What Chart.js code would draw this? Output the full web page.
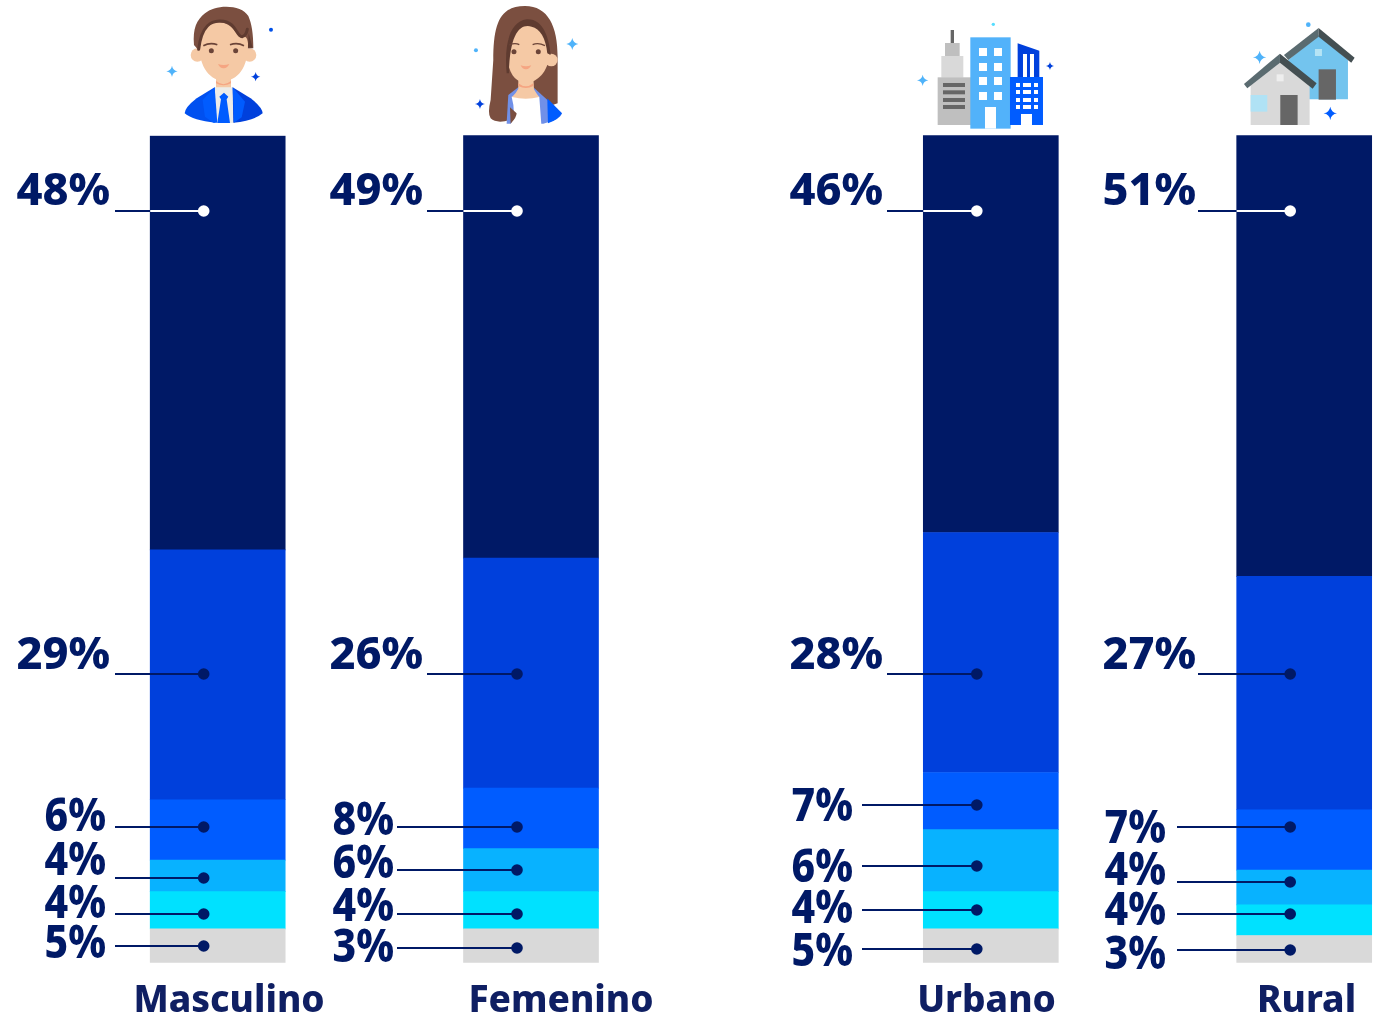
<!DOCTYPE html>
<html lang="es">
<head>
<meta charset="utf-8">
<title>Masculino, Femenino, Urbano, Rural</title>
<script src="https://cdn.jsdelivr.net/npm/chart.js@4"></script>
<style>
html,body{margin:0;padding:0;background:#fff;width:1376px;height:1017px;overflow:hidden}
#wrap{position:relative;width:1376px;height:1017px}
canvas{position:absolute;left:0;top:0}
svg{position:absolute;left:0;top:0;pointer-events:none}
</style>
</head>
<body>
<div id="wrap">
<canvas id="c" width="1376" height="1017"></canvas>
<svg width="1376" height="1017" viewBox="0 0 1376 1017" aria-hidden="true">
<defs><path id="st" d="M0,-1 Q.14,-.14 1,0 Q.14,.14 0,1 Q-.14,.14 -1,0 Q-.14,-.14 0,-1Z"/></defs>
<!-- man -->
<g transform="translate(130,0) scale(.3333)">
<circle cx="202" cy="165" r="20" fill="#F5C9A5"/><circle cx="359" cy="165" r="20" fill="#F5C9A5"/>
<rect x="258" y="225" width="45" height="50" fill="#F5C9A5"/>
<path d="M258,243 Q280,262 303,243 L303,250 Q280,262 258,250Z" fill="#F5A582"/>
<path d="M252,262 L310,262 L313,369 L262,369Z" fill="#ECECE8"/>
<path d="M254,262 L200,295 Q165,322 164,340 Q190,362 256,368Z" fill="#0050F0"/>
<path d="M308,262 L362,295 Q397,322 398,340 Q372,362 310,368Z" fill="#0040DC"/>
<path d="M254,262 L218,300 L225,350 L250,368 L262,368 Z" fill="#005CFF"/>
<path d="M308,262 L345,305 L335,352 L312,368 Z" fill="#005CFF"/>
<path d="M268,290 L282,278 L295,290 L290,298 L300,369 L262,369 L273,298Z" fill="#005CFF"/>
<path d="M192,135 C188,85 200,60 225,40 C255,12 335,12 355,48 C365,70 370,100 370,145 L205,150Z" fill="#7B4F40"/>
<path d="M208,130 C205,205 245,243 281,243 C320,243 356,205 354,130 C352,110 345,108 335,112 C325,115 320,92 300,78 C280,62 240,65 225,85 C215,100 210,115 208,130Z" fill="#F5C9A5"/>
<path d="M206,148 C210,115 218,92 232,78 C250,60 285,58 305,75 C320,88 325,112 337,110 C345,108 350,100 352,88" stroke="#5F3B30" stroke-width="9" fill="none" stroke-linecap="round"/>
<path d="M356,100 L368,143 L354,143Z" fill="#5F3B30"/>
<circle cx="244" cy="152" r="7.5" fill="#6B4438"/><circle cx="317" cy="152" r="7.5" fill="#6B4438"/>
<path d="M220,137 Q240,126 262,134" stroke="#6B4438" stroke-width="5" fill="none"/>
<path d="M300,134 Q322,126 342,137" stroke="#6B4438" stroke-width="5" fill="none"/>
<path d="M264,192 Q281,198 298,192 Q290,206 281,205 Q271,206 264,192Z" fill="#F5A582"/>
<use href="#st" transform="translate(126,214) scale(17)" fill="#4FB3FA"/>
<use href="#st" transform="translate(377,230) scale(14)" fill="#0040DC"/>
<circle cx="423" cy="89" r="6" fill="#0050E8"/>
<!-- woman -->
<path d="M1090,180 C1090,70 1110,18 1185,18 C1255,18 1283,80 1283,170 L1283,310 L1140,360 Q1100,372 1082,355 Q1072,340 1082,300Z" fill="#7B4F40"/>
<path d="M1135,285 L1165,262 L1210,262 L1250,298 L1296,340 Q1290,360 1240,371 L1130,371Z" fill="#7090E8"/>
<path d="M1252,295 L1296,340 Q1285,360 1254,370Z" fill="#005CFF"/>
<path d="M1145,290 L1228,290 L1234,372 L1142,372 Q1160,345 1145,290Z" fill="#fff"/>
<path d="M1165,225 L1210,225 L1212,268 Q1222,285 1228,291 Q1188,302 1146,291 Q1158,280 1165,266Z" fill="#F5C9A5"/>
<path d="M1165,250 Q1188,268 1210,250 L1210,258 Q1188,270 1165,258Z" fill="#F5A582"/>
<circle cx="1264" cy="180" r="19" fill="#F5C9A5"/>
<path d="M1135,130 C1138,95 1160,70 1190,70 C1235,70 1255,110 1258,170 C1250,225 1215,248 1188,248 C1160,248 1135,225 1132,170Z" fill="#F5C9A5"/>
<path d="M1130,220 C1122,130 1140,65 1190,58 C1240,55 1258,115 1262,165 L1252,160 C1248,115 1230,85 1205,80 C1170,70 1140,100 1137,220Z" fill="#5F3B30"/>
<path d="M1143,370 Q1160,352 1160,340 L1140,322 L1142,372Z" fill="#7B4F40"/>
<circle cx="1152" cy="155" r="7.5" fill="#6B4438"/><circle cx="1225" cy="155" r="7.5" fill="#6B4438"/>
<path d="M1138,135 Q1155,127 1168,134" stroke="#6B4438" stroke-width="4" fill="none"/>
<path d="M1208,134 Q1225,127 1245,137" stroke="#6B4438" stroke-width="4" fill="none"/>
<path d="M1172,196 Q1188,202 1204,196 Q1197,209 1188,208 Q1178,209 1172,196Z" fill="#F5A582"/>
<use href="#st" transform="translate(1327,132) scale(18)" fill="#4FB3FA"/>
<use href="#st" transform="translate(1050,312) scale(15)" fill="#0040DC"/>
<circle cx="1038" cy="151" r="6" fill="#4FB3FA"/>
</g>
<!-- city and houses -->
<g transform="translate(880,0) scale(.3333)">
<rect x="212" y="90" width="10" height="40" fill="#666"/>
<rect x="195" y="129" width="44" height="40" fill="#BFBFBF"/>
<rect x="184" y="168" width="66" height="65" fill="#D9D9D9"/>
<rect x="173" y="232" width="100" height="143" fill="#BFBFBF"/>
<rect x="189" y="249" width="66" height="12" fill="#666"/><rect x="189" y="271" width="66" height="12" fill="#666"/><rect x="189" y="294" width="66" height="12" fill="#666"/><rect x="189" y="315" width="66" height="12" fill="#666"/>
<rect x="271" y="112" width="121" height="274" fill="#52B2FA"/>
<g fill="#fff"><rect x="297" y="144" width="24" height="24"/><rect x="342" y="144" width="24" height="24"/><rect x="297" y="189" width="24" height="24"/><rect x="342" y="189" width="24" height="24"/><rect x="297" y="231" width="24" height="24"/><rect x="342" y="231" width="24" height="24"/><rect x="297" y="276" width="24" height="24"/><rect x="342" y="276" width="24" height="24"/><rect x="315" y="321" width="33" height="65"/></g>
<path d="M413,130 L478,152 L478,235 L413,235Z" fill="#0040DC"/>
<rect x="429" y="162" width="12" height="72" fill="#fff"/><rect x="450" y="162" width="12" height="72" fill="#fff"/>
<rect x="390" y="231" width="99" height="144" fill="#005CFF"/>
<g fill="#fff"><rect x="408" y="249" width="12" height="12"/><rect x="429" y="249" width="24" height="12"/><rect x="462" y="249" width="12" height="12"/><rect x="408" y="270" width="12" height="12"/><rect x="429" y="270" width="24" height="12"/><rect x="462" y="270" width="12" height="12"/><rect x="408" y="294" width="12" height="12"/><rect x="429" y="294" width="24" height="12"/><rect x="462" y="294" width="12" height="12"/><rect x="408" y="315" width="12" height="12"/><rect x="429" y="315" width="24" height="12"/><rect x="462" y="315" width="12" height="12"/><rect x="423" y="342" width="33" height="33"/></g>
<use href="#st" transform="translate(128,241) scale(17)" fill="#4FB3FA"/>
<use href="#st" transform="translate(510,198) scale(12)" fill="#0040DC"/>
<circle cx="340" cy="73" r="5" fill="#55DDFF"/>
<!-- houses -->
<path d="M1225,180 L1316,105 L1404,180 L1404,298 L1225,298Z" fill="#73C4EE"/>
<rect x="1316" y="208" width="52" height="91" fill="#666"/>
<rect x="1305" y="147" width="21" height="21" fill="#B5E4F5"/>
<path d="M1212,165 L1316,84 L1316,110 L1225,180Z" fill="#5A6B70"/>
<path d="M1316,84 L1424,173 L1414,188 L1316,110Z" fill="#444F52"/>
<path d="M1112,250 L1200,185 L1289,255 L1289,375 L1112,375Z" fill="#D9D9D9"/>
<rect x="1112" y="285" width="50" height="50" fill="#B0E2F5"/>
<rect x="1201" y="285" width="52" height="90" fill="#666"/>
<rect x="1190" y="223" width="21" height="21" fill="#EEEEEE"/>
<path d="M1092,252 L1200,161 L1200,188 L1102,265Z" fill="#5A6B70"/>
<path d="M1200,161 L1310,250 L1298,266 L1200,188Z" fill="#444F52"/>
<use href="#st" transform="translate(1139,172) scale(20)" fill="#4FB3FA"/>
<use href="#st" transform="translate(1351,340) scale(20)" fill="#005CFF"/>
<circle cx="1285" cy="74" r="7" fill="#4FB3FA"/>
</g>
</svg>
</div>
<script>
// Categories and where they sit on the (non-uniform) x axis
const categories = ['Masculino', 'Femenino', 'Urbano', 'Rural'];
const categoryPos = [217.7, 531, 990.8, 1304.2];

// Segment lengths as drawn, on a 0-100 axis spanning the full bar height
const barGris    = [4.1, 4.1, 4.1, 3.3];
const barCian    = [4.5, 4.5, 4.5, 3.7];
const barCeleste = [3.8, 5.2, 7.5, 4.2];
const barAzul    = [7.3, 7.3, 6.9, 7.3];
const barRey     = [30.2, 27.8, 29.0, 28.2];
const barMarino  = [50.0, 51.1, 48.1, 53.3];

// Percentages printed beside the bars, top segment first
const printedMasculino = [48, 29, 6, 4, 4, 5];
const printedFemenino  = [49, 26, 8, 6, 4, 3];
const printedUrbano    = [46, 28, 7, 6, 4, 5];
const printedRural     = [51, 27, 7, 4, 4, 3];

// Height of each leader dot on the same 0-100 axis
const leaderMasculino = [90.9, 34.9, 16.41, 10.25, 5.90, 2.03];
const leaderFemenino  = [90.9, 34.9, 16.41, 11.22, 5.90, 1.79];
const leaderUrbano    = [90.9, 34.9, 19.07, 11.70, 6.38, 1.67];
const leaderRural     = [90.9, 34.9, 16.41, 9.76, 5.90, 1.55];

const NAVY = '#001966';
const bands = [
  ['Gris', barGris, '#D9D9D9'],
  ['Cian', barCian, '#00E1FF'],
  ['Celeste', barCeleste, '#08B2FF'],
  ['Azul', barAzul, '#005CFF'],
  ['Rey', barRey, '#0040DC'],
  ['Marino', barMarino, NAVY]
];

// Layout of the annotation plugin (pixels)
const groups = [
  {printed: printedMasculino, leader: leaderMasculino, dotDx: -14, nameX: 229,  lineBig: 115,  lineSmall: 115,  textBig: 110,  textSmall: 106},
  {printed: printedFemenino,  leader: leaderFemenino,  dotDx: -14, nameX: 561,  lineBig: 427,  lineSmall: 397,  textBig: 423,  textSmall: 394},
  {printed: printedUrbano,    leader: leaderUrbano,    dotDx: -14, nameX: 986.5, lineBig: 887,  lineSmall: 862,  textBig: 883,  textSmall: 853},
  {printed: printedRural,     leader: leaderRural,     dotDx: -14, nameX: 1306.5, lineBig: 1198, lineSmall: 1177, textBig: 1196, textSmall: 1166}
];
const textBaseline = [
  [205, 669, 831, 875, 918, 958],
  [205, 669, 835, 878, 921, 962],
  [205, 669, 821, 882, 923, 966],
  [205, 669, 843, 885, 925, 969]
];
const FAMILY = '"Noto Sans"';

const annot = {
  id: 'annot',
  afterDatasetsDraw(chart) {
    const ctx = chart.ctx, x = chart.scales.x, y = chart.scales.y;
    ctx.save();
    groups.forEach((g, i) => {
      const cx = x.getPixelForValue(categoryPos[i]);
      const dotX = cx + g.dotDx, left = cx - 67.5;
      g.leader.forEach((v, k) => {
        const py = Math.round(y.getPixelForValue(v));
        const big = k < 2;
        const start = big ? g.lineBig : g.lineSmall;
        ctx.lineWidth = 2;
        ctx.strokeStyle = NAVY;
        ctx.beginPath(); ctx.moveTo(start, py); ctx.lineTo(k === 0 ? left : dotX, py); ctx.stroke();
        const col = k === 0 ? '#fff' : NAVY;
        if (k === 0) { ctx.strokeStyle = '#fff'; ctx.beginPath(); ctx.moveTo(left, py); ctx.lineTo(dotX, py); ctx.stroke(); }
        ctx.fillStyle = col;
        ctx.beginPath(); ctx.arc(dotX, py, 5.8, 0, Math.PI * 2); ctx.fill();
        ctx.fillStyle = NAVY;
        ctx.textAlign = 'right';
        ctx.textBaseline = 'alphabetic';
        ctx.font = `800 ${big ? 45 : 46}px ${FAMILY}`;
        const sx = big ? 1 : .89;
        ctx.save();
        ctx.translate(big ? g.textBig : g.textSmall, textBaseline[i][k]);
        ctx.scale(sx, 1);
        ctx.fillText(g.printed[k] + '%', 0, 0);
        ctx.restore();
      });
      ctx.fillStyle = '#0F1F63';
      ctx.textAlign = 'center';
      ctx.textBaseline = 'alphabetic';
      ctx.font = `800 37px ${FAMILY}`;
      ctx.fillText(categories[i], g.nameX, 1012);
    });
    ctx.restore();
  }
};

new Chart(document.getElementById('c'), {
  type: 'bar',
  data: {
    labels: categories,
    datasets: bands.map(([label, vals, color]) => ({
      label,
      data: vals.map((v, i) => ({x: categoryPos[i], y: v})),
      backgroundColor: color,
      borderWidth: 0,
      barThickness: 135,
      stack: 'all'
    }))
  },
  options: {
    responsive: false,
    animation: false,
    devicePixelRatio: 1,
    layout: {padding: {left: 0, right: 0, top: 135.3, bottom: 54.2}},
    plugins: {legend: {display: false}, title: {display: false}, tooltip: {enabled: false}},
    scales: {
      x: {type: 'linear', min: 0, max: 1376, display: false, stacked: true, offset: false},
      y: {type: 'linear', min: 0, max: 100, display: false, stacked: true}
    }
  },
  plugins: [annot]
});
</script>
</body>
</html>
